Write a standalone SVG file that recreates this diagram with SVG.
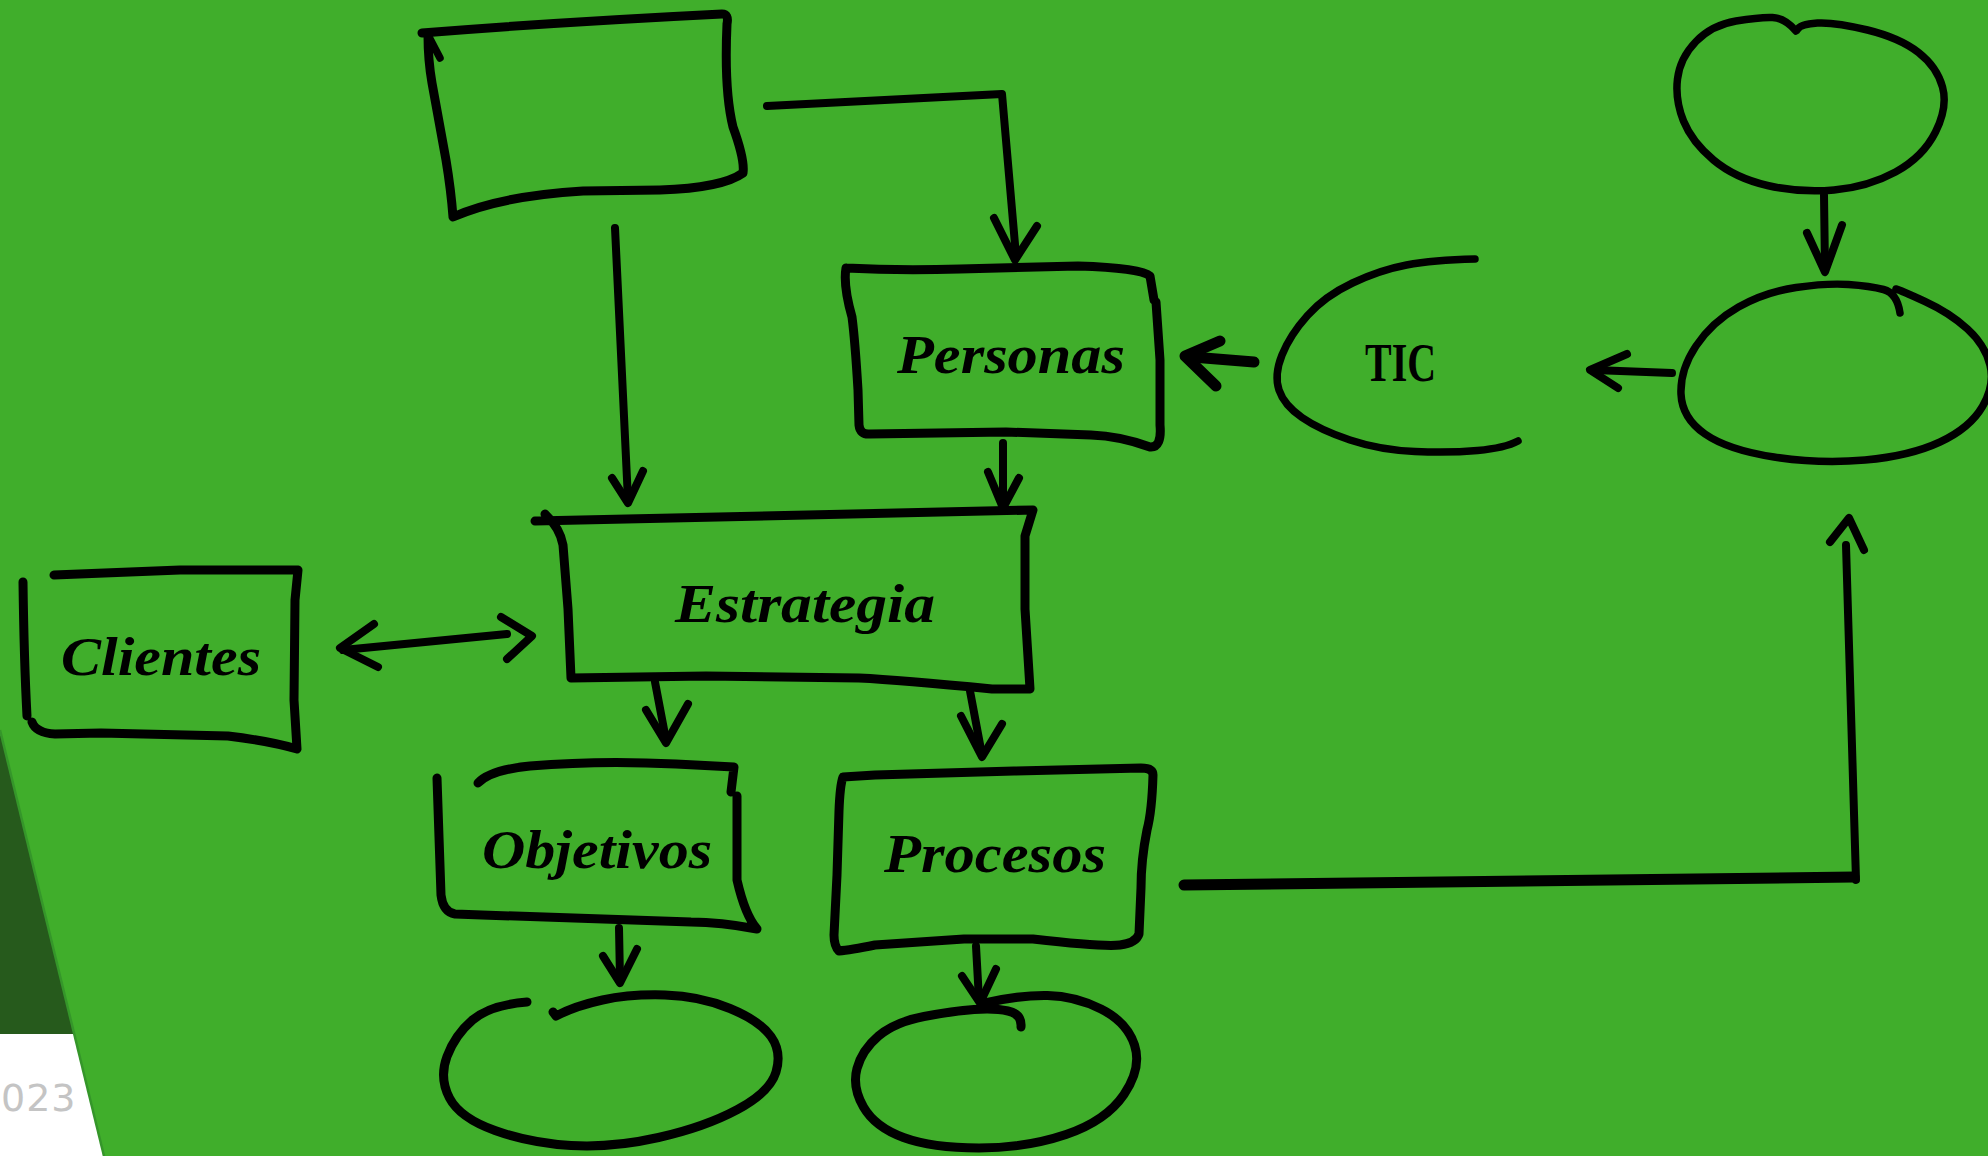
<svg xmlns="http://www.w3.org/2000/svg" width="1988" height="1156" viewBox="0 0 1988 1156">
  <style>
    .ink { fill: none; stroke: #000; stroke-width: 9; stroke-linecap: round; stroke-linejoin: round; }
    .thin { stroke-width: 7.5; }
    .conn { fill: none; stroke: #000; stroke-width: 8; stroke-linecap: round; stroke-linejoin: round; }
    .heavy { stroke-width: 11; }
    .lbl { font-family: "Liberation Serif", "DejaVu Serif", serif; font-weight: bold; font-style: italic; font-size: 55px; fill: #000; }
    .tic { font-family: "Liberation Serif", "DejaVu Serif", serif; font-weight: bold; font-size: 54px; fill: #000; }
    .year { font-family: "DejaVu Sans", "Liberation Sans", sans-serif; font-size: 38px; fill: #c4c4c4; letter-spacing: 1px; }
  </style>

  <!-- background slide -->
  <g id="background">
    <rect x="0" y="0" width="1988" height="1156" fill="#40ae2b"/>
    <path d="M0,730 L74,1034 L0,1034 Z" fill="#265a1c"/>
    <path d="M0,1034 L74,1034 L104,1156 L0,1156 Z" fill="#ffffff"/>
    <path d="M0,730 L104,1156" fill="none" stroke="#35962a" stroke-width="2.5"/>
    <text class="year" x="1" y="1111">023</text>
  </g>

  <!-- connectors -->
  <g id="connectors">
    <!-- top box to Personas -->
    <path class="conn" d="M767,106 L1002,94 L1016,256"/>
    <path class="conn" d="M994,218 L1015,260 L1037,226"/>
    <!-- top box to Estrategia -->
    <path class="conn" d="M615,228 L628,500"/>
    <path class="conn" d="M612,478 L628,503 L643,471"/>
    <!-- Personas to Estrategia -->
    <path class="conn" d="M1003,443 L1003,505"/>
    <path class="conn" d="M988,472 L1003,508 L1019,478"/>
    <!-- TIC to Personas -->
    <path class="conn heavy" d="M1254,362 L1192,357"/>
    <path class="conn heavy" d="M1220,341 L1185,356 L1216,386"/>
    <!-- right ellipse to TIC -->
    <path class="conn" d="M1672,373 L1594,370"/>
    <path class="conn" d="M1627,354 L1590,370 L1618,388"/>
    <!-- top right ellipse to right ellipse -->
    <path class="conn" d="M1824,195 L1825,270"/>
    <path class="conn" d="M1807,233 L1825,272 L1842,225"/>
    <!-- Clientes <-> Estrategia -->
    <path class="conn" d="M343,650 L507,634"/>
    <path class="conn" d="M374,624 L340,648 L378,667"/>
    <path class="conn" d="M501,617 L532,636 L507,659"/>
    <!-- Estrategia to Objetivos -->
    <path class="conn" d="M655,682 L666,740"/>
    <path class="conn" d="M646,710 L666,743 L688,704"/>
    <!-- Estrategia to Procesos -->
    <path class="conn" d="M970,691 L982,755"/>
    <path class="conn" d="M961,716 L982,757 L1002,724"/>
    <!-- Objetivos to lower ellipse -->
    <path class="conn" d="M619,928 L620,980"/>
    <path class="conn" d="M603,956 L620,983 L637,949"/>
    <!-- Procesos to lower ellipse -->
    <path class="conn" d="M976,946 L979,1000"/>
    <path class="conn" d="M962,976 L980,1003 L996,969"/>
    <!-- Procesos round to right ellipse -->
    <path class="conn heavy" d="M1184,885 L1854,877"/>
    <path class="conn" d="M1856,880 L1846,545"/>
    <path class="conn" d="M1830,542 L1849,518 L1864,550"/>
  </g>

  <!-- empty box, top left -->
  <g id="node-top">
    <path class="ink" d="M422,33 Q560,22 722,14 Q729,14 727,24 Q724,90 733,127 Q745,160 743,173 Q722,188 660,190 L583,191 Q500,196 453,217 Q451,190 446,160 Q437,110 432,83 Q428,60 428,35"/>
    <path class="ink thin" d="M428,35 L440,58"/>
  </g>

  <!-- Personas -->
  <g id="node-personas">
    <path class="ink" d="M846,268 Q900,271 960,269 L1078,266 Q1141,268 1150,276 L1154,300 M1156,302 L1160,360 L1160,425 Q1162,448 1150,447 Q1120,436 1091,435 L1006,432 L870,434 Q860,435 859,425 L858,390 Q855,340 852,317 Q843,285 846,268"/>
    <text class="lbl" x="897" y="373" textLength="228" lengthAdjust="spacingAndGlyphs">Personas</text>
  </g>

  <!-- Estrategia -->
  <g id="node-estrategia">
    <path class="ink" d="M535,521 L1033,510 L1025,536 L1025,609 L1030,689 L992,689 Q900,680 859,678 L706,676 L571,678 L568,609 L563,545 Q560,528 545,514"/>
    <text class="lbl" x="675" y="622" textLength="260" lengthAdjust="spacingAndGlyphs">Estrategia</text>
  </g>

  <!-- Clientes -->
  <g id="node-clientes">
    <path class="ink" d="M23,582 Q24,660 27,716"/>
    <path class="ink" d="M32,722 Q36,733 55,734 L101,733 L228,736 Q270,741 297,749 L294,700 L295,600 L298,570 L180,570 L54,575"/>
    <text class="lbl" x="61" y="675" textLength="200" lengthAdjust="spacingAndGlyphs">Clientes</text>
  </g>

  <!-- Objetivos -->
  <g id="node-objetivos">
    <path class="ink" d="M478,783 Q490,770 530,766 Q600,760 676,764 L734,767 L731,792 M737,796 L737,880 Q745,915 757,929 Q720,922 691,922 L482,915 L455,914 Q443,912 441,895 L439,837 L437,778"/>
    <text class="lbl" x="482" y="868" textLength="230" lengthAdjust="spacingAndGlyphs">Objetivos</text>
  </g>

  <!-- Procesos -->
  <g id="node-procesos">
    <path class="ink" d="M843,777 L875,775 L1014,771 L1141,768 Q1153,768 1153,775 Q1152,811 1147,830 Q1141,860 1141,888 L1139,934 Q1136,943 1120,945 Q1103,947 1033,939 L964,939 L875,945 Q850,950 839,951 Q834,946 834,935 L837,875 L839,811 Q840,785 843,777 Z"/>
    <text class="lbl" x="884" y="872" textLength="222" lengthAdjust="spacingAndGlyphs">Procesos</text>
  </g>

  <!-- TIC -->
  <g id="node-tic">
    <path class="ink thin" d="M1475,259 Q1433,260 1406.5,265 Q1380,270 1352.5,283 Q1325,296 1307.5,315.5 Q1290,335 1282,355 Q1274,375 1279,390 Q1284,405 1302,417.5 Q1320,430 1350,440 Q1380,450 1415,451.5 Q1450,453 1477.5,450.5 Q1505,448 1518,441"/>
    <text class="tic" x="1365" y="381" textLength="71" lengthAdjust="spacingAndGlyphs">TIC</text>
  </g>

  <!-- ellipse, top right -->
  <g id="node-ellipse-top">
    <path class="ink thin" d="M1796,31 Q1785,18 1772.5,17.5 Q1760,17 1736,21 Q1712,25 1696,41.5 Q1680,58 1677.5,79 Q1675,100 1683.5,121 Q1692,142 1713.5,160 Q1735,178 1767.5,185.5 Q1800,193 1834,190 Q1868,187 1895.5,172 Q1923,157 1935.5,132 Q1948,107 1942.5,87 Q1937,67 1918.5,52.5 Q1900,38 1867.5,30 Q1835,22 1817.5,23 Q1800,24 1797,30"/>
  </g>

  <!-- ellipse, right -->
  <g id="node-ellipse-right">
    <path class="ink thin" d="M1900,313 Q1897,293 1883.5,289.5 Q1870,286 1848.5,284.5 Q1827,283 1796,287.5 Q1765,292 1738.5,307 Q1712,322 1696,346 Q1680,370 1681,394 Q1682,418 1705,434 Q1728,450 1774,457 Q1820,464 1865,460 Q1910,456 1940,442 Q1970,428 1982.5,406.5 Q1995,385 1990,365 Q1985,345 1967.5,329 Q1950,313 1925,301.5 Q1900,290 1896,289"/>
  </g>

  <!-- ellipse, below Objetivos -->
  <g id="node-ellipse-left">
    <path class="ink" d="M527,1002 Q490,1005 472.5,1020 Q455,1035 447,1056.5 Q439,1078 449.5,1098 Q460,1118 495,1130.5 Q530,1143 571,1145.5 Q612,1148 658.5,1137.5 Q705,1127 737.5,1109.5 Q770,1092 776,1072 Q782,1052 771,1036.5 Q760,1021 730,1008.5 Q700,996 665,995 Q630,994 602.5,1000 Q575,1006 556,1016 L553,1012"/>
  </g>

  <!-- ellipse, below Procesos -->
  <g id="node-ellipse-mid">
    <path class="ink" d="M1021,1027 Q1022,1014 1008,1011 Q995,1008 974,1009.5 Q953,1011 924,1016.5 Q895,1022 878.5,1036 Q862,1050 857,1068.5 Q852,1087 863.5,1107 Q875,1127 903.5,1137.5 Q932,1148 979,1148 Q1026,1148 1066,1134.5 Q1106,1121 1124,1094.5 Q1142,1068 1134.5,1045 Q1127,1022 1101,1009 Q1075,996 1047.5,995.5 Q1020,995 985,1003"/>
  </g>
</svg>
